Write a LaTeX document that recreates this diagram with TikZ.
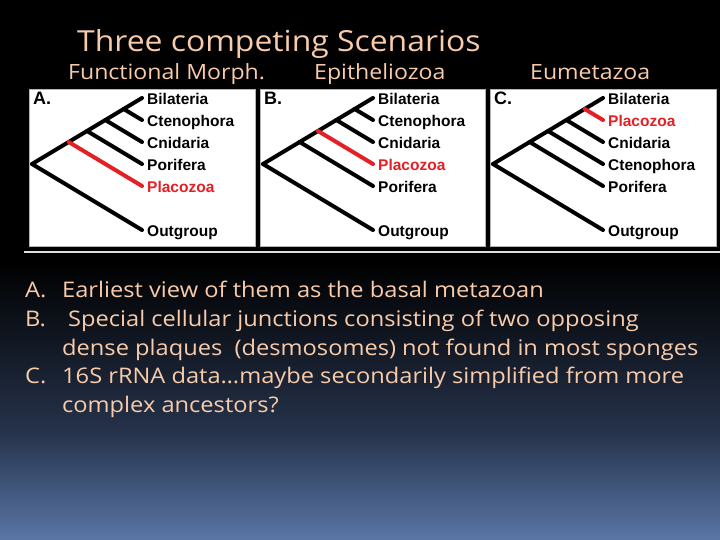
\documentclass[tikz,border=0pt]{standalone}
\usepackage{fontspec}
\setmainfont{Open Sans}[FakeStretch=1.1]
\newfontfamily\taxonfont{Liberation Sans}
\usetikzlibrary{positioning}
\definecolor{peach}{RGB}{248,203,170}
\definecolor{cladered}{RGB}{228,32,36}
\definecolor{dusk}{RGB}{37,50,74}
\definecolor{haze}{RGB}{90,118,166}
\tikzset{
    heading/.style={text=peach, font=\fontsize{29}{31}\selectfont, inner sep=0pt, anchor=base west},
    scenario/.style={text=peach, font=\fontsize{21}{23}\selectfont, inner sep=0pt, anchor=base west},
    point/.style={text=peach, font=\fontsize{21.5}{23}\selectfont, inner sep=0pt, anchor=base west},
    panel/.style={fill=white, draw=gray!60, line width=0.8pt},
    letter/.style={font=\taxonfont\bfseries\fontsize{18}{18}\selectfont, inner sep=0pt, anchor=north west},
    taxon/.style={font=\taxonfont\bfseries\fontsize{15.5}{16}\selectfont, inner sep=0pt, anchor=base west, xshift=5pt, yshift=-6.5pt},
    branch/.style={line width=4pt, line cap=round},
}
\begin{document}
\begin{tikzpicture}[x=1pt, y=-1pt]
    \useasboundingbox (0,0) rectangle (720,540);
    \fill[black] (0,0) rectangle (720,262);
    \shade[top color=black, bottom color=dusk] (0,261) rectangle (720,431);
    \shade[top color=dusk, bottom color=haze] (0,430) rectangle (720,540);

    \node[heading] (title) at (77,52) {Three competing Scenarios};
    \node[scenario] (morph) at (68,80) {Functional Morph.};
    \node[scenario] (epi) at (314,80) {Epitheliozoa};
    \node[scenario] (eumeta) at (530,80) {Eumetazoa};

    \path[panel] (29,89) rectangle (255,246);
    \path[panel] (260,89) rectangle (485,246);
    \path[panel] (490,89) rectangle (716,246);
    \draw[gray!25, line width=1.5pt] (24,252) -- (720,252);

    \foreach \p/\lab/\rx/\names/\red in {a/A/32/{Bilateria,Ctenophora,Cnidaria,Porifera,Placozoa}/5,
        b/B/263/{Bilateria,Ctenophora,Cnidaria,Placozoa,Porifera}/4,
        c/C/493/{Bilateria,Placozoa,Cnidaria,Ctenophora,Porifera}/2}{
    \begin{scope}[shift={(\rx,164)}]
        \node[letter] (\p-letter) at (1,-72) {\lab.};
        \coordinate (\p-root) at (0,0);
        \coordinate (\p-out) at (110,66);
        \coordinate (\p-tip1) at (110,-66);
        \node[taxon] (\p-outname) at (\p-out) {Outgroup};
        \draw[branch] (\p-root) -- (\p-out);
        \draw[branch] (\p-root) -- (\p-tip1);
        \foreach \name [count=\i] in \names {
            \pgfmathsetmacro\d{-88+22*\i}
            \pgfmathsetmacro\jx{55-\d/1.2}
            \def\ink{black}
            \ifnum\i=\red \def\ink{cladered}\fi
            \coordinate (\p-tip\i) at (110,\d);
            \coordinate (\p-join\i) at (\jx,-0.6*\jx);
            \node[taxon, text=\ink] (\p-name\i) at (\p-tip\i) {\name};
            \ifnum\i>1 \draw[branch, draw=\ink] (\p-join\i) -- (\p-tip\i);\fi
        }
    \end{scope}
    }

    \node[point] (markA) at (25,297) {A.};
    \node[point] (lineA) at (62,297) {Earliest view of them as the basal metazoan};
    \node[point] (markB) at (25,326) {B.};
    \node[point] (lineB1) at (68,326) {Special cellular junctions consisting of two opposing};
    \node[point] (lineB2) at (62,355) {dense plaques\ \ (desmosomes) not found in most sponges};
    \node[point] (markC) at (25,383) {C.};
    \node[point] (lineC1) at (62,383) {16S rRNA data\ldots maybe secondarily simplified from more};
    \node[point] (lineC2) at (62,412) {complex ancestors?};
\end{tikzpicture}
\end{document}
